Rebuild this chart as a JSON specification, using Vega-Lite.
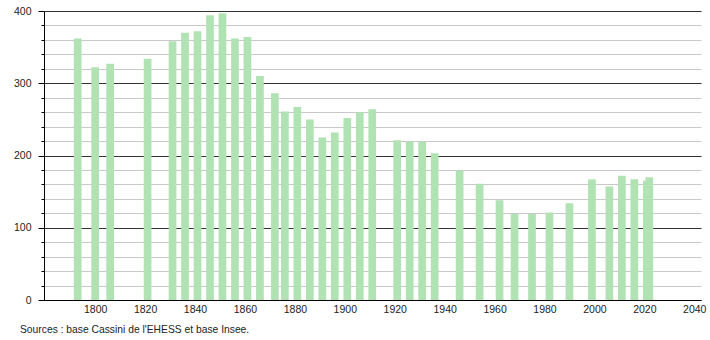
{
  "$schema": "https://vega.github.io/schema/vega-lite/v6.json",
  "width": 657,
  "height": 289,
  "autosize": {"type": "none"},
  "padding": {"left": 44, "top": 11, "right": 9, "bottom": 40},
  "background": "white",
  "config": {"view": {"stroke": null}, "font": "Liberation Sans"},
  "title": {
    "text": "Sources : base Cassini de l'EHESS et base Insee.",
    "orient": "bottom",
    "anchor": "start",
    "frame": "group",
    "dx": -24,
    "offset": 10,
    "fontSize": 10.3,
    "fontWeight": "normal",
    "color": "#222",
    "font": "Liberation Sans"
  },
  "data": {
    "values": [
      {"year": 1793, "population": 362},
      {"year": 1800, "population": 322},
      {"year": 1806, "population": 327},
      {"year": 1821, "population": 334},
      {"year": 1831, "population": 358},
      {"year": 1836, "population": 370},
      {"year": 1841, "population": 372},
      {"year": 1846, "population": 394},
      {"year": 1851, "population": 397},
      {"year": 1856, "population": 362},
      {"year": 1861, "population": 364},
      {"year": 1866, "population": 310},
      {"year": 1872, "population": 286},
      {"year": 1876, "population": 261},
      {"year": 1881, "population": 267},
      {"year": 1886, "population": 250},
      {"year": 1891, "population": 225},
      {"year": 1896, "population": 232},
      {"year": 1901, "population": 252},
      {"year": 1906, "population": 260},
      {"year": 1911, "population": 264},
      {"year": 1921, "population": 221},
      {"year": 1926, "population": 219},
      {"year": 1931, "population": 219},
      {"year": 1936, "population": 203},
      {"year": 1946, "population": 179},
      {"year": 1954, "population": 161},
      {"year": 1962, "population": 138},
      {"year": 1968, "population": 119},
      {"year": 1975, "population": 119},
      {"year": 1982, "population": 121},
      {"year": 1990, "population": 134},
      {"year": 1999, "population": 167},
      {"year": 2006, "population": 157},
      {"year": 2011, "population": 172},
      {"year": 2016, "population": 167},
      {"year": 2021, "population": 165},
      {"year": 2022, "population": 170}
    ]
  },
  "mark": {"type": "bar", "width": 7.7, "color": "#b0e2b3"},
  "encoding": {
    "x": {
      "field": "year",
      "type": "quantitative",
      "scale": {"domain": [1779.5, 2042.7], "nice": false, "zero": false, "padding": 0},
      "axis": {
        "title": null,
        "values": [1800, 1820, 1840, 1860, 1880, 1900, 1920, 1940, 1960, 1980, 2000, 2020, 2040],
        "format": "d",
        "ticks": false,
        "grid": false,
        "domainColor": "#000",
        "labelFontSize": 10.5,
        "labelColor": "#222",
        "labelPadding": 4,
        "labelFlush": false,
        "labelOverlap": false
      }
    },
    "y": {
      "field": "population",
      "type": "quantitative",
      "scale": {"domain": [0, 400], "nice": false},
      "axis": {
        "title": null,
        "values": [0, 20, 40, 60, 80, 100, 120, 140, 160, 180, 200, 220, 240, 260, 280, 300, 320, 340, 360, 380, 400],
        "labelExpr": "datum.value % 100 === 0 ? datum.label : ''",
        "grid": true,
        "gridColor": {"condition": {"test": "datum.value % 100 === 0", "value": "#333333"}, "value": "#c8c8c8"},
        "gridOpacity": 1,
        "gridWidth": 1,
        "tickColor": "#000",
        "tickSize": {"condition": {"test": "datum.value % 100 === 0", "value": 6}, "value": 3},
        "domainColor": "#000",
        "labelFontSize": 10.5,
        "labelColor": "#222",
        "labelPadding": 7,
        "labelOverlap": false
      }
    }
  }
}
